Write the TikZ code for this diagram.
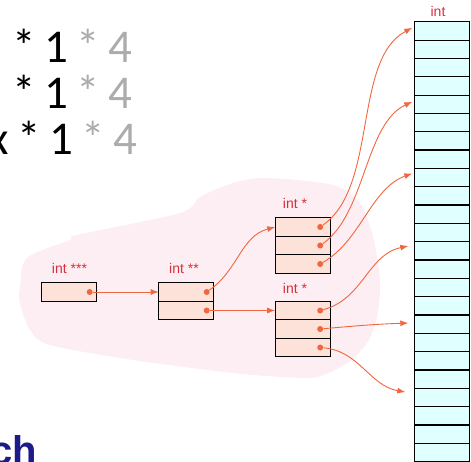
\documentclass[tikz,border=0pt]{standalone}
\usepackage{fontspec}
\setmainfont{Liberation Sans}
\newfontfamily\calfont{Carlito}
\usetikzlibrary{positioning,arrows.meta}

\definecolor{blobpink}{HTML}{FDEEF3}
\definecolor{boxpeach}{HTML}{FDE2DA}
\definecolor{colcyan}{HTML}{E0FFFF}
\definecolor{linkred}{HTML}{F0673F}
\definecolor{lblred}{HTML}{D62F3C}
\definecolor{headnavy}{HTML}{1B1B8A}

\begin{document}
\begin{tikzpicture}[x=1pt,y=1pt,
  cell/.style={draw=black, fill=boxpeach, line width=1.1pt, minimum width=55pt, minimum height=18.5pt, inner sep=0pt, outer sep=0pt},
  icell/.style={cell, fill=colcyan, minimum height=18.33pt},
  dot/.style={circle, fill=linkred, inner sep=0pt, minimum size=6pt},
  link/.style={draw=linkred, line width=0.9pt, -{Latex[length=8pt,width=6pt]}},
  lbl/.style={text=lblred, font=\fontsize{14}{14}\selectfont, inner sep=0pt, anchor=base},
  big/.style={font={\calfont\fontsize{47}{47}\selectfont\spaceskip 8.6pt\relax}, inner sep=0pt, anchor=base east}]
  \useasboundingbox (0,0) rectangle (471,461);
  \clip (0,0) rectangle (471,461);

  \fill[blobpink] plot[smooth cycle] coordinates {(20,174)(27,203)(70,221)(77,226)(180,248)(200,264)(233,278)(267,283)(333,276)(360,258)(373,224)(380,181)(377,144)(367,118)(347,98)(317,84)(283,84)(233,88)(133,101)(50,116)(30,131)(20,158)};

  \node[big] (row1) at (133,398.7) {* 1 \textcolor{gray!65}{* 4}};
  \node[big] (row2) at (133,352.7) {* 1 \textcolor{gray!65}{* 4}};
  \node[big] (row3) at (138,306) {x * 1 \textcolor{gray!65}{* 4}};
  \node[font=\bfseries\fontsize{40}{40}\selectfont, text=headnavy, inner sep=0pt, anchor=base east] (head) at (37.5,-3) {ch};

  \foreach \k in {0,...,23}
    \node[icell] (m\k) at (441.8,430.1-18.33*\k) {};
  \node[lbl] (lint) at (438,444) {int};

  \node[cell] (p3) at (69.2,169) {};
  \node[lbl] (l3) at (69.5,187) {int ***};
  \node[cell] (p2a) at (186.2,169) {};
  \node[cell, below=0pt of p2a] (p2b) {};
  \node[lbl] (l2) at (184,187) {int **};
  \node[cell] (q1a) at (302.7,234) {};
  \node[cell, below=0pt of q1a] (q1b) {};
  \node[cell, below=0pt of q1b] (q1c) {};
  \node[lbl] (lq) at (295,252.7) {int *};
  \node[cell] (r1a) at (302.7,150.5) {};
  \node[cell, below=0pt of r1a] (r1b) {};
  \node[cell, below=0pt of r1b] (r1c) {};
  \node[lbl] (lr) at (295,167.7) {int *};

  \node[dot] (d3) at ([xshift=-7pt]p3.east) {};
  \node[dot] (d2a) at ([xshift=-7pt]p2a.east) {};
  \node[dot] (d2b) at ([xshift=-7pt]p2b.east) {};
  \node[dot] (dqa) at ([xshift=-10pt]q1a.east) {};
  \node[dot] (dqb) at ([xshift=-10pt]q1b.east) {};
  \node[dot] (dqc) at ([xshift=-10pt]q1c.east) {};
  \node[dot] (dra) at ([xshift=-10pt]r1a.east) {};
  \node[dot] (drb) at ([xshift=-10pt]r1b.east) {};
  \node[dot] (drc) at ([xshift=-10pt]r1c.east) {};

  \draw[link] (d3) -- (p2a.west);
  \draw[link] (d2a) to[out=35,in=195] (q1a.west);
  \draw[link] (d2b) -- (r1a.west);
  \draw[link] (dqa) to[out=35,in=208,looseness=0.8] ([xshift=-2pt,yshift=-6pt]m0.north west);
  \draw[link] (dqb) to[out=35,in=205,looseness=0.8] ([xshift=-2pt,yshift=-6.7pt]m4.north west);
  \draw[link] (dqc) to[out=30,in=200,looseness=0.9] ([xshift=-2pt,yshift=-5pt]m8.north west);
  \draw[link] (dra) to[out=15,in=192] ([xshift=-6pt,yshift=-4.3pt]m12.north west);
  \draw[link] (drb) to[out=5,in=182] ([xshift=-6pt,yshift=-8pt]m16.north west);
  \draw[link] (drc) to[out=-5,in=170] ([xshift=-9pt,yshift=-3.7pt]m20.north west);
\end{tikzpicture}
\end{document}
